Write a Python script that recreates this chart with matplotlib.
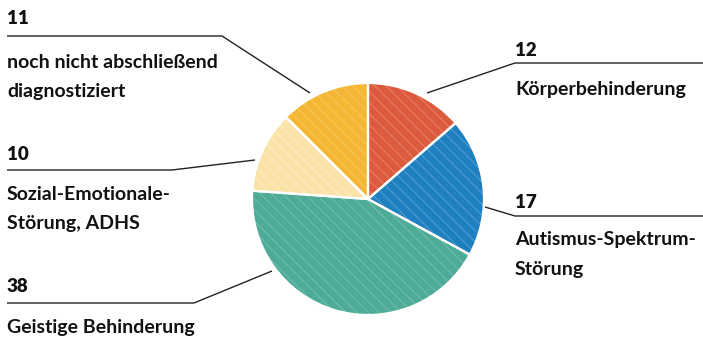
import matplotlib
matplotlib.use("Agg")
import matplotlib.pyplot as plt

# Data
categories = ["Körperbehinderung", "Autismus-Spektrum-\nStörung", "Geistige Behinderung",
              "Sozial-Emotionale-\nStörung, ADHS", "noch nicht abschließend\ndiagnostiziert"]
values = [12, 17, 38, 10, 11]
colors = ["#dc5a3e", "#1f80c0", "#4dab97", "#fbe2a6", "#f5b634"]
hatch_colors = ["#e57a60", "#4a98cf", "#6bbba8", "#fdebc3", "#f8c458"]

plt.rcParams['hatch.linewidth'] = 0.9

W, H = 703, 338
fig = plt.figure(figsize=(W / 100, H / 100), dpi=100)
ax = fig.add_axes([0, 0, 1, 1])

def P(x, y):
    return x, H - y

cx, cy = P(368, 199)
R = 116
wedges, _ = ax.pie(values, colors=colors, startangle=90, counterclock=False,
                   center=(cx, cy), radius=R, frame=True,
                   wedgeprops=dict(linewidth=0))
for w, hc in zip(wedges, hatch_colors):
    w.set_hatch("\\\\\\")
    w.set_edgecolor(hc)
ax.pie(values, colors=["none"] * len(values), startangle=90, counterclock=False,
       center=(cx, cy), radius=R, frame=True,
       wedgeprops=dict(linewidth=1.6, edgecolor="white", fill=False))

ax.set_xlim(0, W)
ax.set_ylim(0, H)
ax.set_aspect("equal")
ax.axis("off")

font = "Lato"
num_kw = dict(fontsize=13.5, fontweight="heavy", family=font, color="#111111", va="center", ha="left")
lab_kw = dict(fontsize=14, fontweight="bold", family=font, color="#111111", va="center", ha="left")
line_kw = dict(color="#222222", linewidth=1.0, solid_capstyle="butt")

# label layout: (number position, label positions, leader line path)
layout = [
    dict(num=(515, 50), lab=[(515, 90)], line=[(703, 63), (515, 63), (427, 93)]),
    dict(num=(515, 203), lab=[(515, 240), (515, 269)], line=[(703, 216), (515, 216), (485, 207)]),
    dict(num=(7, 287), lab=[(7, 327)], line=[(7, 303), (194, 303), (272, 271)]),
    dict(num=(7, 155), lab=[(7, 195), (7, 224)], line=[(7, 170), (172, 170), (255, 160)]),
    dict(num=(7, 18), lab=[(7, 62), (7, 91)], line=[(7, 36), (222, 36), (310, 93)]),
]

for v, cat, lay in zip(values, categories, layout):
    ax.text(*P(*lay["num"]), str(v), **num_kw)
    for line_txt, pos in zip(cat.split("\n"), lay["lab"]):
        ax.text(*P(*pos), line_txt, **lab_kw)
    xs = [p[0] for p in lay["line"]]
    ys = [H - p[1] for p in lay["line"]]
    ax.plot(xs, ys, **line_kw)

fig.savefig("out.png", dpi=100)
